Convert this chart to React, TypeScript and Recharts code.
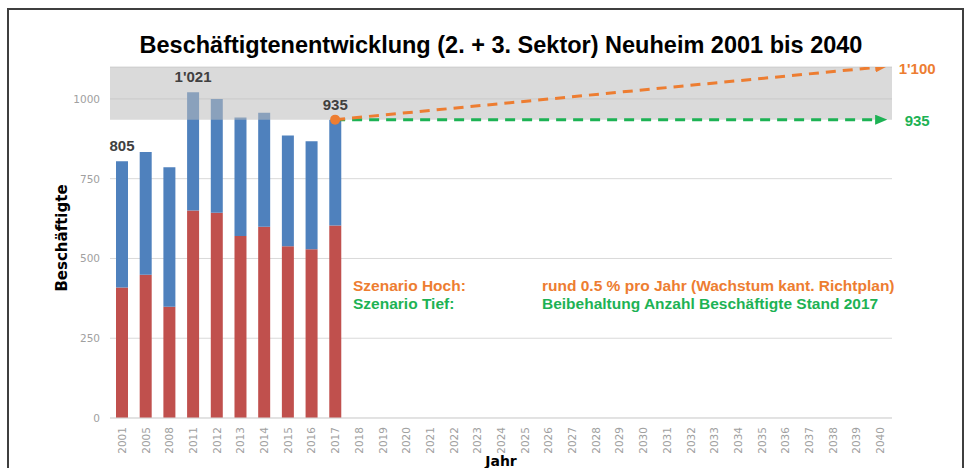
import React from 'react';
import {
  ComposedChart,
  Bar,
  Line,
  XAxis,
  YAxis,
  CartesianGrid,
  ReferenceArea,
  LabelList,
} from 'recharts';

// ---- data ----
const years = [
  '2001', '2005', '2008', '2011', '2012', '2013', '2014', '2015', '2016', '2017',
  '2018', '2019', '2020', '2021', '2022', '2023', '2024', '2025', '2026', '2027',
  '2028', '2029', '2030', '2031', '2032', '2033', '2034', '2035', '2036', '2037',
  '2038', '2039', '2040',
];
const sektor2 = [409, 449, 349, 650, 643, 570, 599, 538, 529, 603];
const sektor3 = [396, 385, 437, 371, 357, 372, 358, 347, 338, 332];
const labeledYears = ['2001', '2011', '2017'];
const scenarioYears = ['2017', '2040'];
const scenarioHoch = [935, 1100];
const scenarioTief = [935, 935];
const yTicks = [0, 250, 500, 750, 1000];
const yDomain = [0, 1100];
const band = [935, 1100];

const BLUE = '#4f81bd';
const RED = '#c0504d';
const ORANGE = '#ed7d31';
const GREEN = '#1db254';

const fmt = (v: number) => {
  const s = String(Math.round(v));
  return s.length > 3 ? s.slice(0, -3) + "'" + s.slice(-3) : s;
};

const data = years.map((y, i) => {
  const s2 = i < sektor2.length ? sektor2[i] : null;
  const s3 = i < sektor3.length ? sektor3[i] : null;
  const si = scenarioYears.indexOf(y);
  return {
    year: y,
    s2,
    s3,
    total: labeledYears.includes(y) && s2 != null && s3 != null ? fmt(s2 + s3) : null,
    hoch: si >= 0 ? scenarioHoch[si] : null,
    tief: si >= 0 ? scenarioTief[si] : null,
  };
});

const lastIdx = years.length - 1;
const startIdx = years.indexOf(scenarioYears[0]);

const XTick = (p: any) => {
  const x = p.x;
  const y = 427;
  return (
    <text
      x={x}
      y={y}
      transform={`rotate(-90 ${x} ${y})`}
      textAnchor="end"
      dominantBaseline="central"
      fontFamily="DejaVu Sans"
      fontSize={10.5}
      fill="#a0a0a0"
    >
      {p.payload.value}
    </text>
  );
};

const YTick = (p: any) => (
  <text
    x={100}
    y={p.y}
    textAnchor="end"
    dominantBaseline="central"
    fontFamily="DejaVu Sans"
    fontSize={10.5}
    fill="#a0a0a0"
  >
    {p.payload.value}
  </text>
);

const TotalLabel = (p: any) => {
  if (p.value == null) return null;
  return (
    <text
      x={p.x + p.width / 2}
      y={p.y - 10}
      textAnchor="middle"
      fontFamily="Liberation Sans"
      fontSize={15}
      fontWeight={600}
      fill="#404040"
    >
      {p.value}
    </text>
  );
};

const endLabel = (color: string) => (p: any) => {
  if (p.index !== lastIdx || p.value == null) return null;
  return (
    <text
      x={p.x + 37}
      y={p.y + 1}
      textAnchor="middle"
      dominantBaseline="central"
      fontFamily="Liberation Sans"
      fontSize={15}
      fontWeight="bold"
      fill={color}
    >
      {fmt(p.value)}
    </text>
  );
};

const hochDot = (p: any) => {
  if (p.index === startIdx && p.cy != null) {
    return <circle key={`hd-${p.index}`} cx={p.cx} cy={p.cy} r={5} fill={ORANGE} />;
  }
  return <g key={`hd-${p.index}`} />;
};

export default function App() {
  return (
    <div style={{ position: 'absolute', left: 0, top: 0, width: 973, height: 468, background: '#fff', overflow: 'hidden' }}>
      <svg width={0} height={0} style={{ position: 'absolute' }}>
        <defs>
          <marker id="arrOrange" markerWidth={12} markerHeight={10} refX={5} refY={5} orient="auto" markerUnits="userSpaceOnUse">
            <path d="M0,0 L12,5 L0,10 z" fill={ORANGE} />
          </marker>
          <marker id="arrGreen" markerWidth={12} markerHeight={10} refX={5} refY={5} orient="auto" markerUnits="userSpaceOnUse">
            <path d="M0,0 L12,5 L0,10 z" fill={GREEN} />
          </marker>
        </defs>
      </svg>
      <div style={{ position: 'absolute', left: 0, top: 0 }}>
        <ComposedChart
          width={973}
          height={468}
          data={data}
          margin={{ top: 67, right: 81, bottom: 0, left: 60 }}
        >
          <CartesianGrid vertical={false} stroke="#d9d9d9" strokeWidth={1} />
          <XAxis
            dataKey="year"
            height={50}
            tick={<XTick />}
            tickLine={false}
            axisLine={{ stroke: '#d9d9d9' }}
            interval={0}
          />
          <YAxis
            width={50}
            domain={yDomain}
            ticks={yTicks}
            tick={<YTick />}
            tickLine={false}
            axisLine={false}
            allowDataOverflow
          />
          <Bar dataKey="s2" name="2. Sektor" stackId="a" fill={RED} barSize={12} isAnimationActive={false} />
          <Bar dataKey="s3" name="3. Sektor" stackId="a" fill={BLUE} barSize={12} isAnimationActive={false}>
            <LabelList dataKey="total" content={TotalLabel} />
          </Bar>
          <ReferenceArea
            y1={band[0]}
            y2={band[1]}
            fill="#bcbcbc"
            fillOpacity={0.55}
            stroke="none"
            ifOverflow="visible"
            zIndex={350}
          />
          <Line
            dataKey="tief"
            name="Szenario Tief"
            stroke={GREEN}
            strokeWidth={3}
            strokeDasharray="10 7"
            connectNulls
            dot={false}
            markerEnd="url(#arrGreen)"
            isAnimationActive={false}
          >
            <LabelList dataKey="tief" content={endLabel(GREEN)} />
          </Line>
          <Line
            dataKey="hoch"
            name="Szenario Hoch"
            stroke={ORANGE}
            strokeWidth={3}
            strokeDasharray="10 7"
            connectNulls
            dot={hochDot}
            markerEnd="url(#arrOrange)"
            isAnimationActive={false}
          >
            <LabelList dataKey="hoch" content={endLabel(ORANGE)} />
          </Line>
        </ComposedChart>
      </div>
      <svg width={973} height={468} style={{ position: 'absolute', left: 0, top: 0, pointerEvents: 'none' }}>
        <rect x={8} y={9} width={955} height={470} fill="none" stroke="#3f3f3f" strokeWidth={2} />
        <text x={501} y={45} textAnchor="middle" dominantBaseline="central" fontFamily="Liberation Sans" fontWeight="bold" fontSize={23.5} fill="#000">
          Beschäftigtenentwicklung (2. + 3. Sektor) Neuheim 2001 bis 2040
        </text>
        <text x={62} y={238} transform="rotate(-90 62 238)" textAnchor="middle" dominantBaseline="central" fontFamily="DejaVu Sans" fontWeight="bold" fontSize={15} fill="#000">
          Beschäftigte
        </text>
        <text x={501} y={461} textAnchor="middle" dominantBaseline="central" fontFamily="DejaVu Sans" fontWeight="bold" fontSize={14} fill="#000">
          Jahr
        </text>
        <g fontFamily="Liberation Sans" fontWeight="bold" fontSize={15.5}>
          <text x={353} y={285} dominantBaseline="central" fill={ORANGE}>Szenario Hoch:</text>
          <text x={542} y={285} dominantBaseline="central" fill={ORANGE}>rund 0.5 % pro Jahr (Wachstum kant. Richtplan)</text>
          <text x={353} y={303} dominantBaseline="central" fill={GREEN}>Szenario Tief:</text>
          <text x={542} y={303} dominantBaseline="central" fill={GREEN}>Beibehaltung Anzahl Beschäftigte Stand 2017</text>
        </g>
      </svg>
    </div>
  );
}
